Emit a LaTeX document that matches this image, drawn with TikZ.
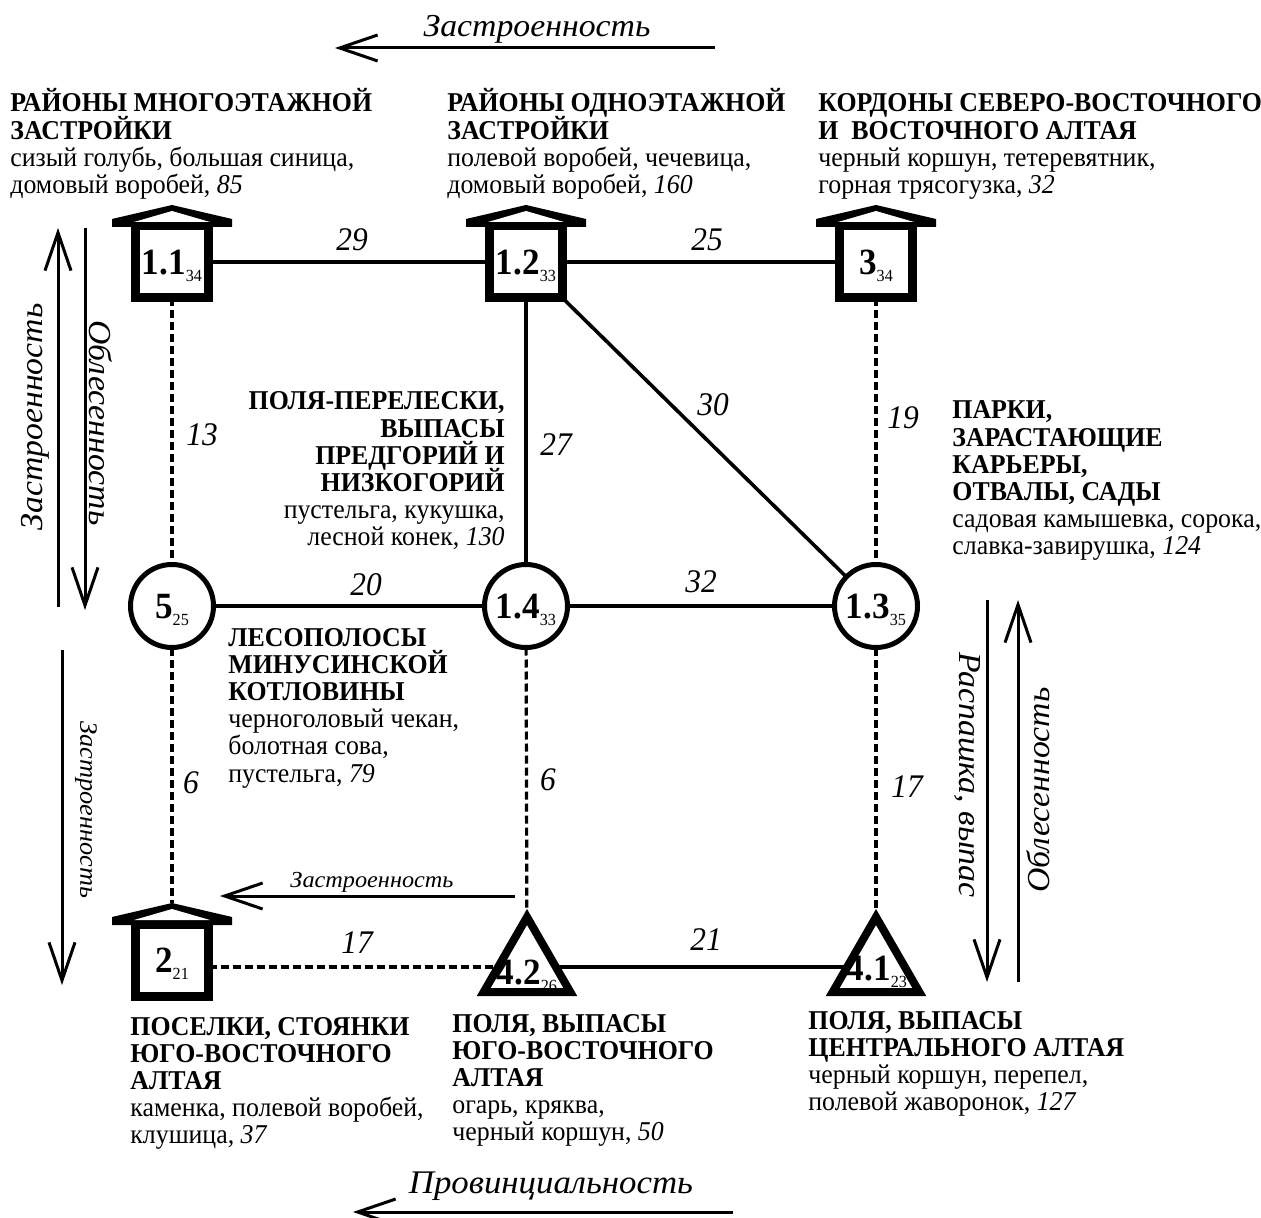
\documentclass[tikz,border=0pt]{standalone}
\usepackage{fontspec}
\setmainfont{Liberation Serif}[FakeStretch=0.95]
\newfontfamily\wideit{Liberation Serif}[FakeStretch=1.055]
\usetikzlibrary{arrows.meta,shapes.geometric}
\newcommand\blkL[1]{\vtop{\lineskiplimit=-1000pt\halign{##\hfil\cr#1\crcr}}}
\newcommand\blkR[1]{\vtop{\lineskiplimit=-1000pt\halign{\hfil##\cr#1\crcr}}}
\newcommand\nlab[2]{{\fontsize{18.5}{18.5}\selectfont\bfseries #1}{\fontsize{8.5}{8.5}\selectfont\raisebox{-3.5pt}{#2}}}
\newcommand\roofon[1]{%
  \fill ([shift={(-60,1)}]#1.north) -- ([shift={(-60,-7)}]#1.north) -- ([shift={(0,-21)}]#1.north) -- ([shift={(60,-7)}]#1.north) -- ([shift={(60,1)}]#1.north) -- cycle;
  \fill[white] ([shift={(-38,-4)}]#1.north) -- ([shift={(0,-15)}]#1.north) -- ([shift={(38,-4)}]#1.north) -- cycle;}
\tikzset{
  house/.style={draw, line width=4.5pt, minimum width=36.5pt, minimum height=36pt, inner sep=0pt, outer sep=0pt, text height=12.5pt, text depth=0pt},
  circ/.style={circle, draw, line width=2.5pt, minimum size=41.5pt, inner sep=0pt, outer sep=0pt, text height=12.5pt, text depth=0pt},
  tri/.style={regular polygon, regular polygon sides=3, draw, line width=4pt, minimum size=50pt, inner sep=0pt, outer sep=0pt},
  tlab/.style={inner sep=0pt, anchor=base},
  txt/.style={inner sep=0pt, font=\fontsize{13.6}{13.6}\selectfont},
  num/.style={inner sep=0pt, font=\fontsize{16.5}{16.5}\selectfont\itshape},
  edge/.style={line width=1.8pt},
  dedge/.style={line width=1.6pt, dash pattern=on 4pt off 2pt},
  arr/.style={line width=1.5pt, -{Straight Barb[length=19pt,width=13pt]}},
  alab/.style={inner sep=0pt, font=\fontsize{16}{16}\wideit\itshape}
}
\begin{document}
\begin{tikzpicture}[x=0.5pt,y=-0.5pt]
\useasboundingbox (0,0) rectangle (1261,1218);
% shapes
\node[house] (h11) at (172,262) {\nlab{1.1}{34}};
\node[house] (h12) at (526,262) {\nlab{1.2}{33}};
\node[house] (h3) at (876,262) {\nlab{3}{34}};
\node[house] (h2) at (172,960) {\nlab{2}{21}};
\roofon{h11}\roofon{h12}\roofon{h3}\roofon{h2}
\node[circ] (c5) at (172,606) {\nlab{5}{25}};
\node[circ] (c14) at (526,606) {\nlab{1.4}{33}};
\node[circ] (c13) at (876,606) {\nlab{1.3}{35}};
\node[tri] (t42) at (527,967) {};
\node[tri] (t41) at (876,967) {};
\node[tlab] (l42) at (527,984) {\nlab{4.2}{26}};
\node[tlab] (l41) at (877,980) {\nlab{4.1}{23}};
% edges
\draw[edge] (h11) -- (h12);
\draw[edge] (h12) -- (h3);
\draw[edge] (h12) -- (c14);
\draw[edge] (h12.south east) -- (c13);
\draw[edge] (c5) -- (c14);
\draw[edge] (c14) -- (c13);
\draw[edge] (t42) -- (t41);
\draw[dedge] (h11) -- (c5);
\draw[dedge] (h3) -- (c13);
\draw[dedge] (c5) -- ([shift={(0,-21)}]h2.north);
\draw[dedge] (c14) -- (t42);
\draw[dedge] (c13) -- (t41);
\draw[dedge] (h2.east |- t42.center) -- (t42);
% edge labels
\node[num] (n29) at (352,240) {29};
\node[num] (n25) at (707,240) {25};
\node[num] (n13) at (202,435) {13};
\node[num] (n27) at (556,445) {27};
\node[num] (n30) at (713,405) {30};
\node[num] (n19) at (903,418) {19};
\node[num] (n20) at (366,585) {20};
\node[num] (n32) at (701,582) {32};
\node[num] (n6a) at (191,783) {6};
\node[num] (n6b) at (548,780) {6};
\node[num] (n17a) at (907,787) {17};
\node[num] (n17b) at (357,943) {17};
\node[num] (n21) at (706,940) {21};
% text blocks
\node[txt, anchor=base west] (tA) at (10,112) {\blkL{\textbf{РАЙОНЫ МНОГОЭТАЖНОЙ}\cr \textbf{ЗАСТРОЙКИ}\cr сизый голубь, большая синица,\cr домовый воробей, \textit{85}}};
\node[txt, anchor=base west] (tB) at (447,112) {\blkL{\textbf{РАЙОНЫ ОДНОЭТАЖНОЙ}\cr \textbf{ЗАСТРОЙКИ}\cr полевой воробей, чечевица,\cr домовый воробей, \textit{160}}};
\node[txt, anchor=base west] (tC) at (818,112) {\blkL{\textbf{КОРДОНЫ СЕВЕРО-ВОСТОЧНОГО}\cr \textbf{И\ \ ВОСТОЧНОГО АЛТАЯ}\cr черный коршун, тетеревятник,\cr горная трясогузка, \textit{32}}};
\node[txt, anchor=base east] (tD) at (505,410) {\blkR{\textbf{ПОЛЯ-ПЕРЕЛЕСКИ,}\cr \textbf{ВЫПАСЫ}\cr \textbf{ПРЕДГОРИЙ И}\cr \textbf{НИЗКОГОРИЙ}\cr пустельга, кукушка,\cr лесной конек, \textit{130}}};
\node[txt, anchor=base west] (tE) at (952,419) {\blkL{\textbf{ПАРКИ,}\cr \textbf{ЗАРАСТАЮЩИЕ}\cr \textbf{КАРЬЕРЫ,}\cr \textbf{ОТВАЛЫ, САДЫ}\cr садовая камышевка, сорока,\cr славка-завирушка, \textit{124}}};
\node[txt, anchor=base west] (tF) at (228,646) {\blkL{\textbf{ЛЕСОПОЛОСЫ}\cr \textbf{МИНУСИНСКОЙ}\cr \textbf{КОТЛОВИНЫ}\cr черноголовый чекан,\cr болотная сова,\cr пустельга, \textit{79}}};
\node[txt, anchor=base west] (tG) at (130,1035) {\blkL{\textbf{ПОСЕЛКИ, СТОЯНКИ}\cr \textbf{ЮГО-ВОСТОЧНОГО}\cr \textbf{АЛТАЯ}\cr каменка, полевой воробей,\cr клушица, \textit{37}}};
\node[txt, anchor=base west] (tH) at (452,1032) {\blkL{\textbf{ПОЛЯ, ВЫПАСЫ}\cr \textbf{ЮГО-ВОСТОЧНОГО}\cr \textbf{АЛТАЯ}\cr огарь, кряква,\cr черный коршун, \textit{50}}};
\node[txt, anchor=base west] (tI) at (808,1029) {\blkL{\textbf{ПОЛЯ, ВЫПАСЫ}\cr \textbf{ЦЕНТРАЛЬНОГО АЛТАЯ}\cr черный коршун, перепел,\cr полевой жаворонок, \textit{127}}};
% gradient arrows
\coordinate (a1s) at (715,48); \coordinate (a1e) at (335,48);
\coordinate (a2s) at (58,607); \coordinate (a2e) at (58,228);
\coordinate (a3s) at (85,228); \coordinate (a3e) at (85,610);
\coordinate (a4s) at (62,650); \coordinate (a4e) at (62,985);
\coordinate (a5s) at (515,896); \coordinate (a5e) at (220,896);
\coordinate (a6s) at (987,600); \coordinate (a6e) at (987,982);
\coordinate (a7s) at (1018,982); \coordinate (a7e) at (1018,600);
\coordinate (a8s) at (733,1212); \coordinate (a8e) at (353,1212);
\draw[arr] (a1s) -- (a1e);
\draw[arr] (a2s) -- (a2e);
\draw[arr] (a3s) -- (a3e);
\draw[arr] (a4s) -- (a4e);
\draw[arr] (a5s) -- (a5e);
\draw[arr] (a6s) -- (a6e);
\draw[arr] (a7s) -- (a7e);
\draw[arr] (a8s) -- (a8e);
\node[alab, anchor=base] (g1) at (537,37) {Застроенность};
\node[alab, rotate=90] (g2) at (35,417) {Застроенность};
\node[alab, rotate=-90] (g3) at (101,423) {Облесенность};
\node[alab, rotate=-90, font=\fontsize{12.5}{12.5}\wideit\itshape] (g4) at (86,810) {Застроенность};
\node[alab, anchor=base, font=\fontsize{11.5}{11.5}\wideit\itshape] (g5) at (372,887) {Застроенность};
\node[alab, rotate=-90] (g6) at (967,775) {Распашка, выпас};
\node[alab, rotate=90] (g7) at (1038,790) {Облесенность};
\node[alab, anchor=base, font=\fontsize{16.5}{16.5}\wideit\itshape] (g8) at (551,1193) {Провинциальность};
\end{tikzpicture}
\end{document}
